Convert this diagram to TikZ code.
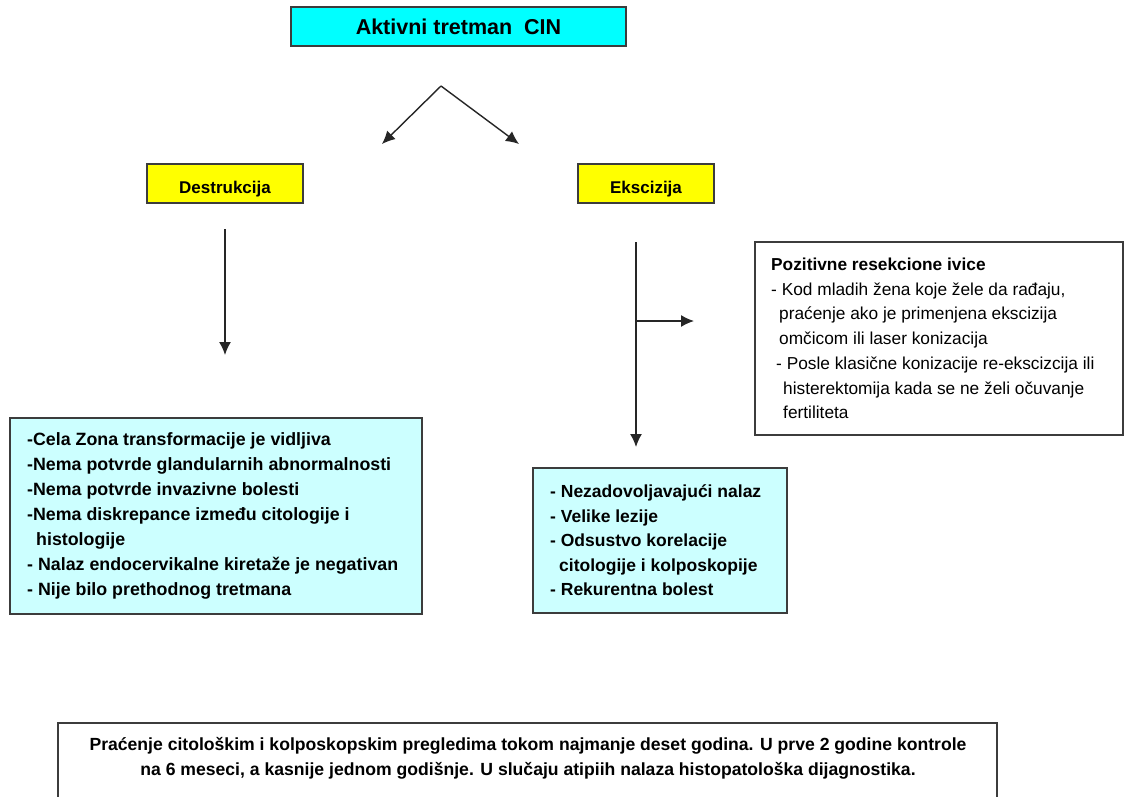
\documentclass[tikz,border=0pt]{standalone}
\usepackage{fontspec}
\setmainfont{Liberation Sans}
\usetikzlibrary{arrows.meta}
\definecolor{topcyan}{RGB}{0,255,255}
\definecolor{boxyellow}{RGB}{255,255,0}
\definecolor{lightcyan}{RGB}{204,255,255}
\definecolor{edge}{RGB}{60,60,60}
\tikzset{
  box/.style={draw=edge, line width=1.3pt, inner sep=0pt, outer sep=0pt},
  boxtext/.style={align=left, inner sep=0pt, anchor=west},
  ybox/.style={box, fill=boxyellow, minimum height=39pt, text height=19pt, text depth=0pt,
      font=\bfseries\fontsize{17}{20}\selectfont},
  arr/.style={draw=black!85, line width=1.4pt, -{Latex[length=13pt,width=12pt]}},
}
\begin{document}
\begin{tikzpicture}[x=1pt,y=-1pt]
\useasboundingbox (0,0) rectangle (1124,796);
\clip (0,0) rectangle (1124,796);
\fill[white] (0,0) rectangle (1124,796);

% top
\node[box, fill=topcyan, minimum width=335pt, minimum height=39pt,
      font=\bfseries\fontsize{21.5}{25}\selectfont] (top) at (458.5,26.5) {Aktivni tretman \ CIN};

\coordinate (apex) at (441,86);
\coordinate (la) at (382,144);
\coordinate (ra) at (519,144);
\draw[arr] (apex) -- (la);
\draw[arr] (apex) -- (ra);

\node[ybox, minimum width=156pt] (destr) at (225,183.5) {Destrukcija};
\node[ybox, minimum width=136pt] (eksc) at (646,183.5) {Ekscizija};

% arrows
\coordinate (d1) at (225,229);
\coordinate (d2) at (225,355);
\draw[arr] (d1) -- (d2);
\coordinate (e1) at (636,242);
\coordinate (e2) at (636,447);
\coordinate (eb) at (636,321);
\coordinate (ee) at (694,321);
\draw[arr] (e1) -- (e2);
\draw[arr] (eb) -- (ee);

% right box
\node[box, fill=white, minimum width=368pt, minimum height=193pt] (pos) at (939,338.5) {};
\node[boxtext, font=\fontsize{17.3}{24.7}\selectfont] (postext) at ([xshift=16pt]pos.west)
 {\textbf{Pozitivne resekcione ivice}\\
  - Kod mladih žena koje žele da rađaju,\\
  \hspace*{8pt}praćenje ako je primenjena ekscizija\\
  \hspace*{8pt}omčicom ili laser konizacija\\
  \hspace*{5pt}- Posle klasične konizacije re-ekscizcija ili\\
  \hspace*{12pt}histerektomija kada se ne želi očuvanje\\
  \hspace*{12pt}fertiliteta};

% left box
\node[box, fill=lightcyan, minimum width=412pt, minimum height=196pt] (cond) at (216,516) {};
\node[boxtext, font=\bfseries\fontsize{17.8}{25}\selectfont] (condtext) at ([xshift=17pt]cond.west)
 {-Cela Zona transformacije je vidljiva\\
  -Nema potvrde glandularnih abnormalnosti\\
  -Nema potvrde invazivne bolesti\\
  -Nema diskrepance između citologije i\\
  \hspace*{9pt}histologije\\
  - Nalaz endocervikalne kiretaže je negativan\\
  - Nije bilo prethodnog tretmana};

% mid box
\node[box, fill=lightcyan, minimum width=254pt, minimum height=145pt] (ind) at (660,540.5) {};
\node[boxtext, font=\bfseries\fontsize{17.5}{24.5}\selectfont] (indtext) at ([xshift=17pt]ind.west)
 {- Nezadovoljavajući nalaz\\
  - Velike lezije\\
  - Odsustvo korelacije\\
  \hspace*{9pt}citologije i kolposkopije\\
  - Rekurentna bolest};

% bottom box
\node[box, fill=white, minimum width=939pt, minimum height=110pt] (follow) at (527.5,778) {};
\node[align=center, inner sep=0pt, font=\bfseries\fontsize{17.6}{25}\selectfont] (followtext) at (528,758.5)
 {Praćenje citološkim i kolposkopskim pregledima tokom najmanje deset godina. U prve 2 godine kontrole\\
  na 6 meseci, a kasnije jednom godišnje. U slučaju atipiih nalaza histopatološka dijagnostika.};
\end{tikzpicture}
\end{document}
